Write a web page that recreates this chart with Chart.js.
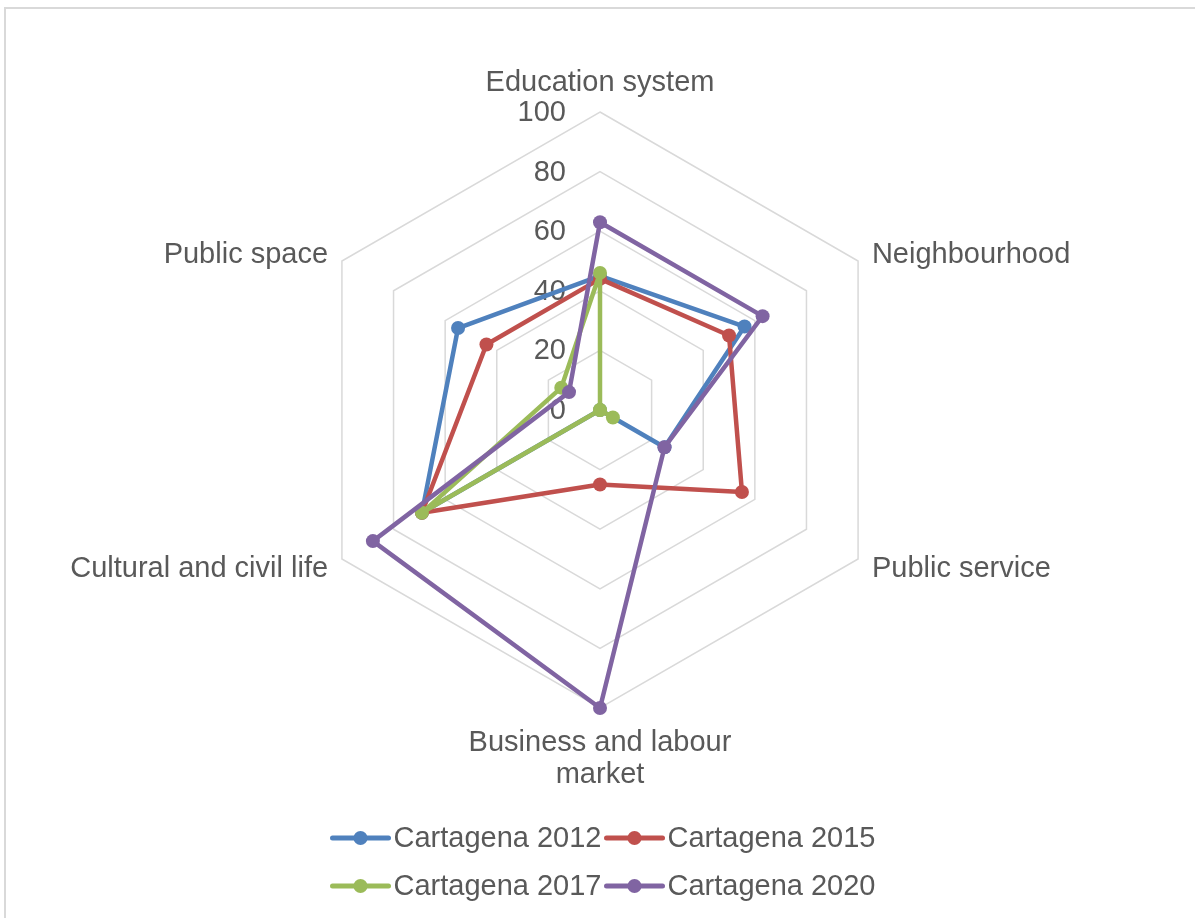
<!DOCTYPE html>
<html>
<head>
<meta charset="utf-8">
<script src="https://cdn.jsdelivr.net/npm/chart.js@4.4.1/dist/chart.umd.min.js"></script>
<style>
  html, body { margin: 0; padding: 0; background: #ffffff; }
  canvas { display: block; }
</style>
</head>
<body>
<canvas id="grafico" width="1195" height="918"></canvas>
<script>
// Eixos do radar (o quarto rótulo quebra em duas linhas)
const categorias = ['Education system', 'Neighbourhood', 'Public service', ['Business and labour', 'market'], 'Cultural and civil life', 'Public space'];
const series = ['Cartagena 2012', 'Cartagena 2015', 'Cartagena 2017', 'Cartagena 2020'];
const valores2012 = [45, 56, 25, 0, 69, 55];
const valores2015 = [44, 50, 55, 25, 69, 44];
const valores2017 = [46, 0, 5, 0, 69, 15];
const valores2020 = [63, 63, 25, 100, 88, 12];
const ticksEscala = [0, 20, 40, 60, 80, 100];

const valores = [valores2012, valores2015, valores2017, valores2020];
const cores = ['#4F81BD', '#C0504D', '#9BBB59', '#8064A2'];
const corTexto = '#595959';
const corGrade = '#D9D9D9';
const fonte = '29px "Liberation Sans", Arial, sans-serif';

// Moldura, valores da escala, rótulos dos eixos e legenda
const textos = {
   id: 'textos',
   beforeDraw(chart) {
      const ctx = chart.ctx;
      ctx.save();
      ctx.fillStyle = corGrade;
      ctx.fillRect(4, 7, chart.width, 2);
      ctx.fillRect(4, 7, 2, chart.height);
      ctx.restore();
   },
   beforeDatasetsDraw(chart) {
      const ctx = chart.ctx;
      const r = chart.scales.r;
      ctx.save();
      ctx.font = fonte;
      ctx.fillStyle = corTexto;
      ctx.textAlign = 'right';
      ctx.textBaseline = 'middle';
      ticksEscala.forEach(v => {
         ctx.fillText(String(v), r.xCenter - 34, r.yCenter - r.getDistanceFromCenterForValue(v) + 1);
      });
      ctx.restore();
   },
   afterDraw(chart) {
      const ctx = chart.ctx;
      const r = chart.scales.r;
      ctx.save();
      ctx.font = fonte;
      ctx.fillStyle = corTexto;
      ctx.textBaseline = 'middle';

      chart.data.labels.forEach((rotulo, i) => {
         const linhas = Array.isArray(rotulo) ? rotulo : [rotulo];
         const p = r.getPointPosition(i, r.drawingArea + 16);
         const cos = Math.cos(p.angle);
         const sin = Math.sin(p.angle);
         let y0;
         if (Math.abs(cos) < 0.01) {
            ctx.textAlign = 'center';
            y0 = sin < 0 ? p.y - 13 - (linhas.length - 1) * 32 : p.y + 19;
         } else {
            ctx.textAlign = cos > 0 ? 'left' : 'right';
            y0 = p.y + 2 - (linhas.length - 1) * 16;
         }
         linhas.forEach((l, k) => ctx.fillText(l, p.x, y0 + k * 32));
      });

      // legenda em duas linhas de dois itens
      ctx.textAlign = 'left';
      const linhasLegenda = [[0, 1], [2, 3]];
      const yLegenda = [838, 886];
      linhasLegenda.forEach((itens, li) => {
         const larguras = itens.map(k => 63 + ctx.measureText(series[k]).width);
         const total = larguras.reduce((a, b) => a + b, 0) + 3 * (itens.length - 1);
         let x = 603 - total / 2;
         const y = yLegenda[li];
         itens.forEach((k, j) => {
            ctx.strokeStyle = cores[k];
            ctx.lineWidth = 5;
            ctx.lineCap = 'round';
            ctx.beginPath();
            ctx.moveTo(x + 2, y);
            ctx.lineTo(x + 58, y);
            ctx.stroke();
            ctx.fillStyle = cores[k];
            ctx.beginPath();
            ctx.arc(x + 30, y, 7, 0, Math.PI * 2);
            ctx.fill();
            ctx.fillStyle = corTexto;
            ctx.fillText(series[k], x + 63, y + 1);
            x += larguras[j] + 3;
         });
      });
      ctx.restore();
   }
};

const grafico = document.getElementById('grafico').getContext('2d');
const chart = new Chart(grafico, {
   type: 'radar',
   data: {
      labels: categorias,
      datasets: series.map((nome, i) => ({
         label: nome,
         data: valores[i],
         borderColor: cores[i],
         backgroundColor: cores[i],
         pointBackgroundColor: cores[i],
         pointBorderColor: cores[i],
         pointBorderWidth: 0,
         pointRadius: 7,
         borderWidth: 4.5,
         borderJoinStyle: 'round',
         fill: false,
         tension: 0,
         order: 4 - i
      }))
   },
   options: {
      responsive: false,
      animation: false,
      layout: { padding: { left: 6, right: 0, top: 112, bottom: 210 } },
      plugins: {
         legend: { display: false },
         tooltip: { enabled: false }
      },
      scales: {
         r: {
            min: 0,
            max: 100,
            ticks: { display: false, stepSize: 20 },
            grid: { color: corGrade, lineWidth: 1.5 },
            angleLines: { display: false },
            pointLabels: { display: false }
         }
      }
   },
   plugins: [textos]
});
</script>
</body>
</html>
